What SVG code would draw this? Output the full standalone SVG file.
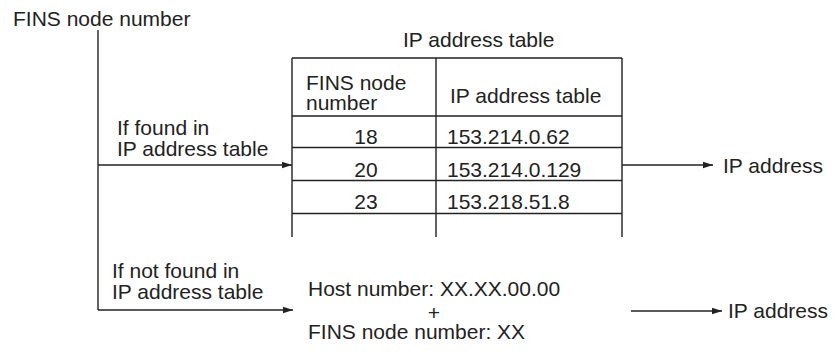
<svg xmlns="http://www.w3.org/2000/svg" width="837" height="352" viewBox="0 0 837 352">
<style>
text{font-family:"Liberation Sans",Arial,sans-serif;font-size:21px;fill:#222}
.ln{stroke:#222;stroke-width:1.4;fill:none}
.mid{text-anchor:middle}
</style>
<defs>
<marker id="ah" viewBox="0 0 10 10" refX="10" refY="5" markerWidth="10" markerHeight="10" markerUnits="userSpaceOnUse" orient="auto">
<path d="M0,1.8 L10,5 L0,8.2 Z" fill="#222"/>
</marker>
</defs>
<rect width="837" height="352" fill="#fff"/>
<g id="source">
<text x="13" y="26">FINS node number</text>
</g>
<g id="table">
<text x="403" y="47">IP address table</text>
<path class="ln" d="M292,58 H622 M292,116 H622 M292,147.5 H622 M292,180.5 H622 M292,213.5 H622 M292,58 V237 M436,58 V237 M622,58 V237"/>
<text x="306" y="90">FINS node</text>
<text x="306" y="110">number</text>
<text x="450" y="103">IP address table</text>
<text class="mid" x="366" y="144">18</text>
<text x="447" y="144">153.214.0.62</text>
<text class="mid" x="366" y="177">20</text>
<text x="447" y="177">153.214.0.129</text>
<text class="mid" x="366" y="209">23</text>
<text x="447" y="209">153.218.51.8</text>
</g>
<g id="calc">
<text x="308" y="296">Host number: XX.XX.00.00</text>
<text class="mid" x="434" y="320">+</text>
<text x="308" y="339">FINS node number: XX</text>
</g>
<g id="out1">
<text x="723" y="173">IP address</text>
</g>
<g id="out2">
<text x="728" y="318">IP address</text>
</g>
<g id="labels">
<text x="117" y="135">If found in</text>
<text x="117" y="156">IP address table</text>
<text x="112" y="278">If not found in</text>
<text x="112" y="299">IP address table</text>
</g>
<g id="connectors">
<path class="ln" d="M98,30 V310"/>
<path class="ln" d="M98,165 H292" marker-end="url(#ah)"/>
<path class="ln" d="M98,310 H293" marker-end="url(#ah)"/>
<path class="ln" d="M622,165 H713" marker-end="url(#ah)"/>
<path class="ln" d="M631,311 H722" marker-end="url(#ah)"/>
</g>
</svg>
